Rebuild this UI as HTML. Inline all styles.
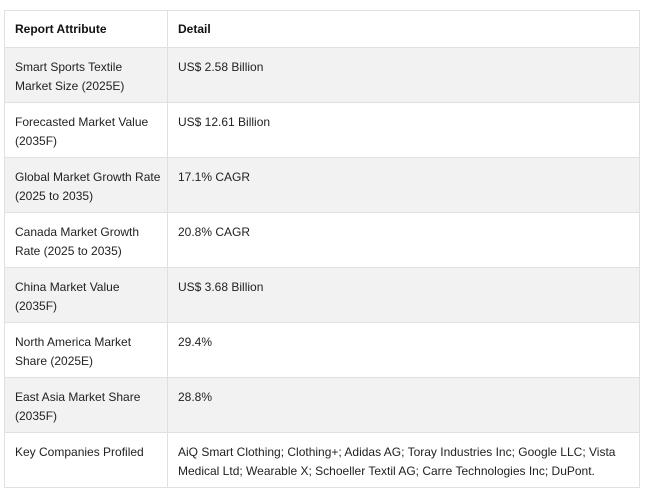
<!DOCTYPE html>
<html><head><style>
html,body{margin:0;padding:0;background:#fff;width:646px;height:492px;overflow:hidden}
table{position:absolute;left:4px;top:10px;width:636px;border-collapse:collapse;table-layout:fixed;font-family:"Liberation Sans",sans-serif;font-size:12px;color:#222}
td,th{border:1px solid #e0e0e0;padding:0 10px;vertical-align:top;text-align:left;line-height:19px}
th{height:37px;box-sizing:border-box;vertical-align:middle;font-weight:bold;color:#111}
td{height:55px;padding-top:10px;box-sizing:border-box}
td:first-child{white-space:nowrap;overflow:visible}
tr.g td{background:#f2f2f2}
col.a{width:163px}
</style></head><body>
<table>
<colgroup><col class="a"><col></colgroup>
<tr><th>Report Attribute</th><th>Detail</th></tr>
<tr class="g"><td>Smart Sports Textile<br>Market Size (2025E)</td><td>US$ 2.58 Billion</td></tr>
<tr><td>Forecasted Market Value<br>(2035F)</td><td>US$ 12.61 Billion</td></tr>
<tr class="g"><td>Global Market Growth Rate<br>(2025 to 2035)</td><td>17.1% CAGR</td></tr>
<tr><td>Canada Market Growth<br>Rate (2025 to 2035)</td><td>20.8% CAGR</td></tr>
<tr class="g"><td>China Market Value<br>(2035F)</td><td>US$ 3.68 Billion</td></tr>
<tr><td>North America Market<br>Share (2025E)</td><td>29.4%</td></tr>
<tr class="g"><td>East Asia Market Share<br>(2035F)</td><td>28.8%</td></tr>
<tr><td>Key Companies Profiled</td><td>AiQ Smart Clothing; Clothing+; Adidas AG; Toray Industries Inc; Google LLC; Vista Medical Ltd; Wearable X; Schoeller Textil AG; Carre Technologies Inc; DuPont.</td></tr>
</table>
</body></html>
